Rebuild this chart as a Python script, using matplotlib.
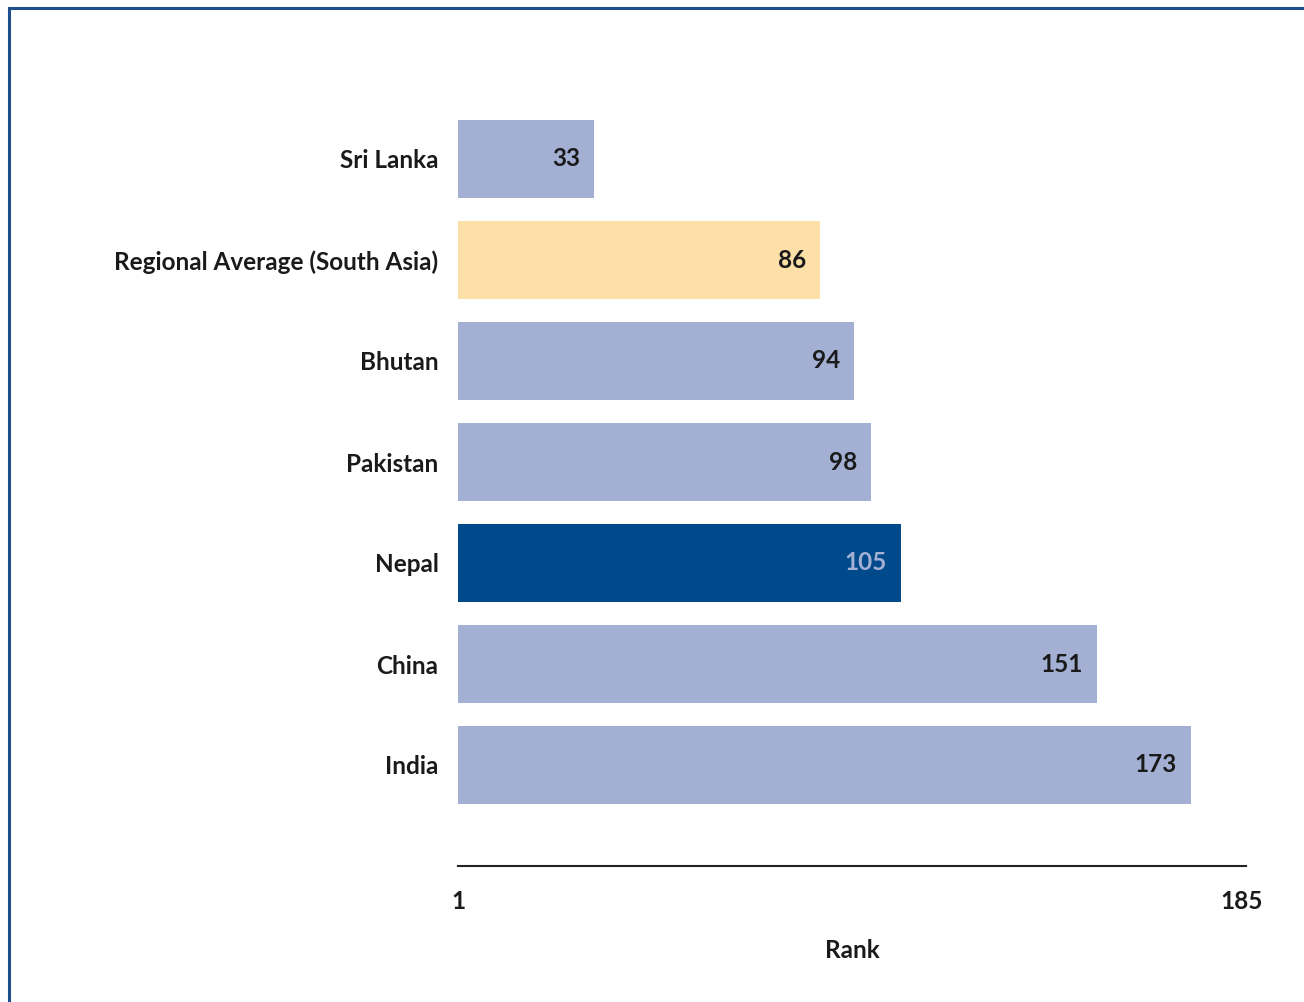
import matplotlib.pyplot as plt
from matplotlib.lines import Line2D

# ranks, top to bottom as in the chart
countries = ['Sri Lanka', 'Regional Average (South Asia)', 'Bhutan', 'Pakistan',
             'Nepal', 'China', 'India']
ranks = [33, 86, 94, 98, 105, 151, 173]
rank_min = 1
rank_max = 185

light = '#A4B0D3'
bar_colors = [light, '#FDDFA8', light, light, '#004A8C', light, light]
text_colors = ['#1a1a1a', '#1a1a1a', '#1a1a1a', '#1a1a1a', '#A4B0D3', '#1a1a1a', '#1a1a1a']

plt.rcParams['font.family'] = ['Lato', 'DejaVu Sans']
plt.rcParams['font.weight'] = 'bold'
fs = 17.5

fig = plt.figure(figsize=(13.04, 10.02), dpi=100)
ax = fig.add_axes([458 / 1304, 1 - 866 / 1002, (1246 - 458) / 1304, (866 - 58) / 1002])

ypos = list(range(len(countries)))
widths = [r - rank_min for r in ranks]
ax.barh(ypos, widths, left=rank_min, height=0.78, color=bar_colors)

for y, r, c in zip(ypos, ranks, text_colors):
    ax.annotate(str(r), xy=(r, y), xytext=(-10, 0), textcoords='offset points',
                ha='right', va='center', fontsize=fs, fontweight='bold', color=c)

ax.set_ylim(len(countries), -1)
ax.set_xlim(rank_min, rank_max + 1)
ax.set_yticks(ypos)
ax.set_yticklabels(countries, fontsize=fs, fontweight='bold', color='#1a1a1a')
ax.set_xticks([rank_min, rank_max])
ax.set_xticklabels([str(rank_min), str(rank_max)], fontsize=fs, fontweight='bold', color='#1a1a1a')
ax.tick_params(axis='both', length=0)
ax.tick_params(axis='x', pad=17)
ax.tick_params(axis='y', pad=14)
ax.set_xlabel('Rank', fontsize=fs, fontweight='bold', color='#1a1a1a', labelpad=19)

for s in ['top', 'right', 'left']:
    ax.spines[s].set_visible(False)
ax.spines['bottom'].set_linewidth(1.5)
ax.spines['bottom'].set_color('#222222')

# frame lines on top and left edge of the picture
fig.add_artist(Line2D([9 / 1304, 1], [1 - 8 / 1002, 1 - 8 / 1002], color='#1F4E8C', lw=2.2))
fig.add_artist(Line2D([9 / 1304, 9 / 1304], [0, 1 - 8 / 1002], color='#1F4E8C', lw=2.2))

fig.savefig('out.png', dpi=100)
